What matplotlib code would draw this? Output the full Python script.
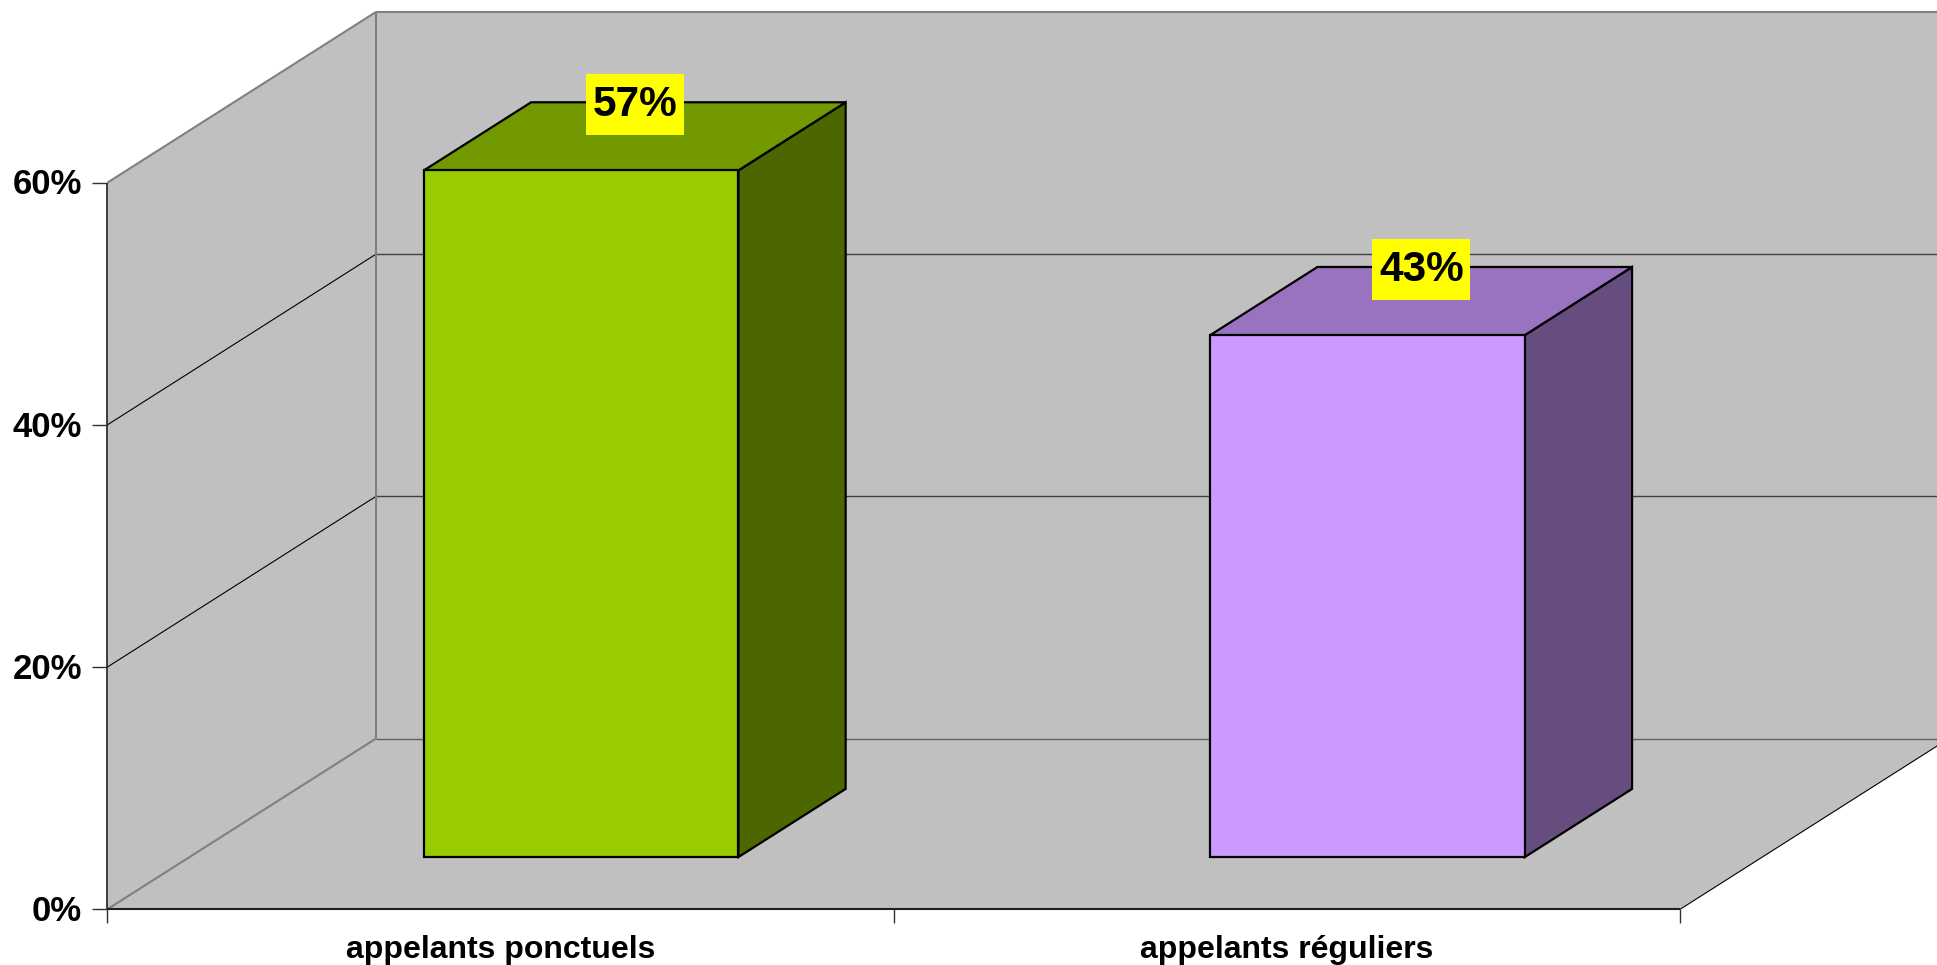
import matplotlib
matplotlib.use('Agg')
import matplotlib.pyplot as plt
from matplotlib.patches import Rectangle

plt.rcParams['font.family'] = ['Liberation Sans', 'DejaVu Sans']

# Данные
categories = ['appelants ponctuels', 'appelants réguliers']
values = [56.7, 43.1]
value_labels = ['57%', '43%']
y_ticks = [0, 20, 40, 60]
y_tick_labels = ['0%', '20%', '40%', '60%']

front_colors = ['#99CC00', '#CC99FF']
top_colors = ['#729900', '#9973BF']
side_colors = ['#4C6600', '#664D80']
wall_color = '#C0C0C0'
edge_gray = '#808080'

# Смещение "в глубину" в единицах осей
DX = 0.3417
DY = 14.1
bar_width = 0.4
depth_start = 0.306
depth_end = 0.705
y_top = 60


def proj(x, v, d=0.0):
    return x + DX * d, v + DY * d


def poly(points, color, edge=None, lw=0.0, z=1):
    xs = [proj(*p)[0] for p in points]
    ys = [proj(*p)[1] for p in points]
    ax.fill(xs, ys, facecolor=color, edgecolor=edge if edge else color, linewidth=lw, zorder=z, joinstyle='miter')


def line(p1, p2, color='black', lw=0.8, z=2):
    a = proj(*p1)
    b = proj(*p2)
    ax.plot([a[0], b[0]], [a[1], b[1]], color=color, linewidth=lw, zorder=z, solid_capstyle='butt')


fig = plt.figure(figsize=(19.37, 9.65), dpi=100)
ax = fig.add_axes([0, 0, 1, 1])
ax.set_xlim(-107.3 / 786.4, (1937 - 107.3) / 786.4)
ax.set_ylim((909.3 - 965) / 12.11, 909.3 / 12.11)
ax.axis('off')

n = len(categories)
x_back = 3.0

# Стены и пол
poly([(0, 0, 0), (0, y_top, 0), (0, y_top, 1), (0, 0, 1)], wall_color)
poly([(0, 0, 1), (0, y_top, 1), (x_back, y_top, 1), (x_back, 0, 1)], wall_color)
poly([(0, 0, 0), (n, 0, 0), (n, 0, 1), (0, 0, 1)], wall_color)

# Сетка
for t in y_ticks[1:-1]:
    line((0, t, 0), (0, t, 1), 'black', 0.8)
    line((0, t, 1), (x_back, t, 1), '#404040', 1.0)
line((0, 0, 1), (x_back, 0, 1), '#606060', 1.0)
line((0, y_top, 1), (x_back, y_top, 1), edge_gray, 1.5)
line((0, y_top, 0), (0, y_top, 1), edge_gray, 1.5)
line((0, 0, 1), (0, y_top, 1), edge_gray, 1.5)
line((0, 0, 0), (0, 0, 1), edge_gray, 1.5)
line((n, 0, 0), (n, 0, 1), 'black', 0.8)

# Оси и засечки
line((0, 0, 0), (0, y_top, 0), '#202020', 1.2, 3)
line((0, 0, 0), (n, 0, 0), '#202020', 1.5, 3)
for t, lab in zip(y_ticks, y_tick_labels):
    line((-0.019, t), (0, t), '#303030', 1.0, 3)
    ax.text(-0.032, t + 0.1, lab, ha='right', va='center_baseline', fontsize=25, fontweight='bold', color='black')
for i in range(n + 1):
    line((i, 0), (i, -1.1), '#303030', 1.0, 3)
for i, cat in enumerate(categories):
    ax.text(i + 0.5, -3.35, cat, ha='center', va='center', fontsize=23, fontweight='bold', color='black')

# Столбцы
for i, v in enumerate(values):
    x0 = i + 0.5 - bar_width / 2 - 0.002
    x1 = x0 + bar_width
    d0, d1 = depth_start, depth_end
    poly([(x1, 0, d0), (x1, v, d0), (x1, v, d1), (x1, 0, d1)], side_colors[i], 'black', 1.6, 4)
    poly([(x0, v, d0), (x1, v, d0), (x1, v, d1), (x0, v, d1)], top_colors[i], 'black', 1.6, 4)
    poly([(x0, 0, d0), (x1, 0, d0), (x1, v, d0), (x0, v, d0)], front_colors[i], 'black', 1.6, 5)

    # Подпись значения на желтом фоне
    cx, cy = proj(i + 0.5, v, 0.5)
    box_w, box_h = 0.124, 5.0
    ax.add_patch(Rectangle((cx - box_w / 2, cy + 2.7 - box_h / 2), box_w, box_h,
                           facecolor='#FFFF00', edgecolor='none', zorder=6))
    ax.text(cx, cy + 3.0, value_labels[i], ha='center', va='center_baseline',
            fontsize=30.5, fontweight='bold', color='black', zorder=7)

fig.savefig('out.png', dpi=100)
